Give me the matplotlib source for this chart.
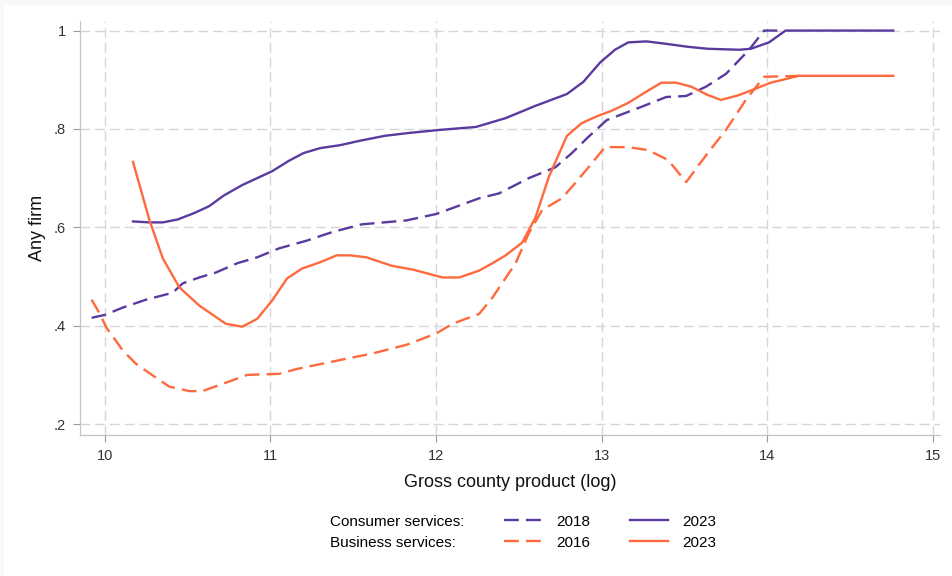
import numpy as np
import matplotlib
matplotlib.use("Agg")
import matplotlib.pyplot as plt
from matplotlib.lines import Line2D
from matplotlib.patches import Rectangle

plt.rcParams["font.family"] = ["Liberation Sans", "DejaVu Sans"]

PURPLE = "#5b3a9f"
ORANGE = "#fe6a3e"
GRID   = "#d6d6d6"

# ── Series: log gross county product vs share with any firm ──────────────────
cons18_x = [9.92, 10.00, 10.11, 10.25, 10.41, 10.47, 10.57, 10.67, 10.80, 10.92,
            11.05, 11.22, 11.37, 11.55, 11.82, 12.00, 12.26, 12.38, 12.56, 12.72,
            12.82, 12.92, 13.03, 13.24, 13.39, 13.51, 13.63, 13.75, 13.89, 13.98, 14.10]
cons18_y = [0.416, 0.422, 0.437, 0.453, 0.467, 0.486, 0.498, 0.508, 0.527, 0.539,
            0.557, 0.573, 0.590, 0.606, 0.614, 0.627, 0.659, 0.669, 0.700, 0.722,
            0.751, 0.784, 0.818, 0.845, 0.865, 0.867, 0.886, 0.912, 0.961, 1.000, 1.000]

cons23_x = [10.17, 10.27, 10.35, 10.44, 10.54, 10.63, 10.72, 10.83, 10.92, 11.01,
            11.11, 11.20, 11.30, 11.42, 11.54, 11.69, 11.84, 12.02, 12.24, 12.42,
            12.60, 12.79, 12.89, 12.99, 13.08, 13.16, 13.27, 13.39, 13.52, 13.64,
            13.83, 13.90, 14.01, 14.11, 14.76]
cons23_y = [0.612, 0.610, 0.610, 0.616, 0.629, 0.643, 0.665, 0.686, 0.700, 0.714,
            0.735, 0.751, 0.761, 0.767, 0.776, 0.786, 0.792, 0.798, 0.804, 0.822,
            0.847, 0.871, 0.896, 0.935, 0.961, 0.976, 0.978, 0.973, 0.967, 0.963,
            0.961, 0.963, 0.976, 1.000, 1.000]

bus16_x = [9.92, 9.97, 10.01, 10.11, 10.19, 10.31, 10.39, 10.51, 10.59, 10.73,
           10.86, 11.05, 11.16, 11.46, 11.61, 11.82, 12.00, 12.10, 12.26, 12.34,
           12.48, 12.56, 12.64, 12.76, 12.84, 12.92, 13.02, 13.16, 13.28, 13.40,
           13.51, 13.64, 13.75, 13.87, 13.98, 14.19]
bus16_y = [0.453, 0.424, 0.396, 0.349, 0.322, 0.294, 0.276, 0.267, 0.267, 0.284,
           0.300, 0.302, 0.312, 0.333, 0.343, 0.361, 0.384, 0.404, 0.424, 0.457,
           0.527, 0.588, 0.635, 0.659, 0.690, 0.722, 0.763, 0.763, 0.757, 0.737,
           0.692, 0.751, 0.798, 0.859, 0.906, 0.908]

bus23_x = [10.17, 10.27, 10.35, 10.45, 10.57, 10.73, 10.83, 10.92, 11.01, 11.10,
           11.19, 11.30, 11.40, 11.48, 11.58, 11.73, 11.86, 12.04, 12.14, 12.26,
           12.34, 12.42, 12.52, 12.60, 12.68, 12.79, 12.88, 12.98, 13.06, 13.16,
           13.27, 13.36, 13.45, 13.54, 13.64, 13.72, 13.83, 13.93, 14.02, 14.19, 14.76]
bus23_y = [0.733, 0.614, 0.537, 0.478, 0.441, 0.404, 0.398, 0.414, 0.451, 0.496,
           0.516, 0.529, 0.543, 0.543, 0.539, 0.522, 0.514, 0.498, 0.498, 0.512,
           0.527, 0.543, 0.569, 0.620, 0.702, 0.786, 0.812, 0.827, 0.837, 0.853,
           0.876, 0.894, 0.894, 0.886, 0.869, 0.859, 0.869, 0.882, 0.894, 0.908, 0.908]

x_ticks = [10, 11, 12, 13, 14, 15]
y_ticks = [0.2, 0.4, 0.6, 0.8, 1.0]
y_tick_labels = [".2", ".4", ".6", ".8", "1"]

# ── Plot ──────────────────────────────────────────────────────────────────────
fig = plt.figure(figsize=(9.52, 5.76), dpi=100)
fig.patch.set_facecolor("#f8f8f8")
# white page inset from the thin grey top/left edge
fig.patches.append(Rectangle((4 / 952, 0), 1, 1 - 5 / 576, transform=fig.transFigure,
                             facecolor="white", edgecolor="none", zorder=-10))
ax = fig.add_axes([0.084, 0.245, 0.903, 0.719])
ax.set_facecolor("white")

LW = 1.7
DASH = (6.3, 3.0)
ax.plot(cons18_x, cons18_y, color=PURPLE, lw=LW, dashes=DASH, zorder=3)
ax.plot(bus16_x, bus16_y, color=ORANGE, lw=LW, dashes=DASH, zorder=3)
ax.plot(cons23_x, cons23_y, color=PURPLE, lw=LW, zorder=4)
ax.plot(bus23_x, bus23_y, color=ORANGE, lw=LW, zorder=4)

ax.set_xlim(9.85, 15.04)
ax.set_ylim(0.178, 1.02)
ax.set_xticks(x_ticks)
ax.set_yticks(y_ticks)
ax.set_yticklabels(y_tick_labels)
ax.grid(True, color=GRID, lw=1.0, dashes=(7, 3.6), zorder=0)
ax.set_axisbelow(True)

for side in ("top", "right"):
    ax.spines[side].set_visible(False)
for side in ("left", "bottom"):
    ax.spines[side].set_color("#c4c4c4")
    ax.spines[side].set_linewidth(0.9)
ax.tick_params(direction="out", length=5, width=0.8, color="#9a9a9a",
               labelsize=10.5, labelcolor="#333333", pad=5)

ax.set_xlabel("Gross county product (log)", fontsize=13, color="#111111", labelpad=8)
ax.set_ylabel("Any firm", fontsize=13, color="#111111", labelpad=6)

# Legend: row titles in first column, then the two line styles
blank = Line2D([], [], color="none")
handles = [blank, blank,
           Line2D([], [], color=PURPLE, lw=LW, dashes=DASH),
           Line2D([], [], color=ORANGE, lw=LW, dashes=DASH),
           Line2D([], [], color=PURPLE, lw=LW),
           Line2D([], [], color=ORANGE, lw=LW)]
labels = ["Consumer services:", "Business services:", "2018", "2016", "2023", "2023"]
fig.legend(handles, labels, ncol=3, loc="center", bbox_to_anchor=(0.522, 0.076),
           frameon=False, fontsize=11, handlelength=2.5, handletextpad=0.9,
           columnspacing=2.6, labelspacing=0.45)

fig.savefig("out.png", dpi=100)
